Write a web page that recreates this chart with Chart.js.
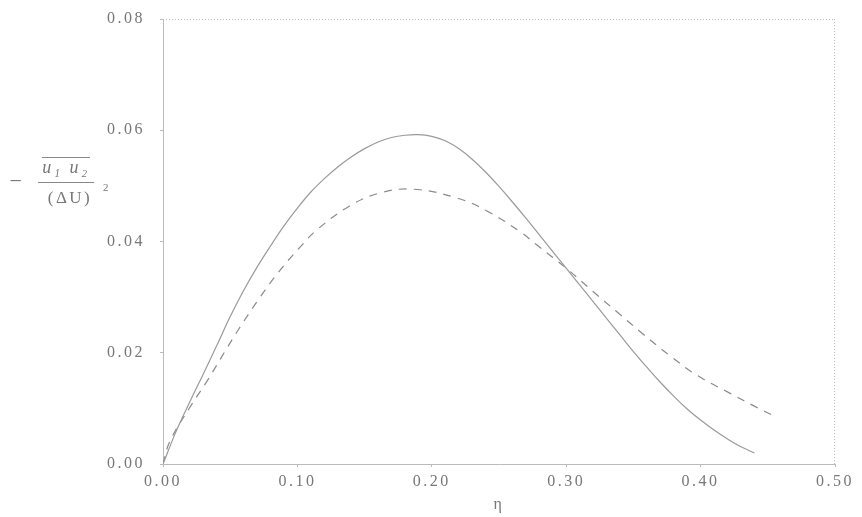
<!DOCTYPE html>
<html>
<head>
<meta charset="utf-8">
<script src="https://cdn.jsdelivr.net/npm/chart.js@4.4.1/dist/chart.umd.min.js"></script>
<style>
  html, body { margin: 0; padding: 0; background: #fff; }
  #wrap { width: 862px; height: 517px; }
</style>
</head>
<body>
<div id="wrap"><canvas id="chart" width="862" height="517"></canvas></div>
<script>
// upper curve (solid)
var etaSolid = [0.00, 0.01, 0.02, 0.03, 0.04, 0.05, 0.06, 0.07, 0.08, 0.09, 0.10, 0.11, 0.12, 0.13, 0.14, 0.15, 0.16, 0.17, 0.18, 0.19, 0.20, 0.21, 0.22, 0.23, 0.24, 0.25, 0.26, 0.27, 0.28, 0.29, 0.30, 0.31, 0.32, 0.33, 0.34, 0.35, 0.36, 0.37, 0.38, 0.39, 0.40, 0.41, 0.42, 0.43, 0.44];
var valSolid = [0.0000, 0.0060, 0.0112, 0.0162, 0.0213, 0.0265, 0.0312, 0.0354, 0.0392, 0.0428, 0.0460, 0.0489, 0.0513, 0.0534, 0.0552, 0.0567, 0.0579, 0.0587, 0.0591, 0.0592, 0.0589, 0.0581, 0.0567, 0.0548, 0.0525, 0.0499, 0.0471, 0.0442, 0.0412, 0.0382, 0.0352, 0.0322, 0.0292, 0.0262, 0.0232, 0.0202, 0.0174, 0.0147, 0.0122, 0.0099, 0.0079, 0.0061, 0.0045, 0.0031, 0.0020];

// lower curve (dashed)
var etaDashed = [0.000, 0.005, 0.020, 0.033, 0.046, 0.057, 0.072, 0.086, 0.102, 0.115, 0.139, 0.161, 0.186, 0.219, 0.241, 0.266, 0.278, 0.300, 0.320, 0.339, 0.356, 0.377, 0.397, 0.422, 0.440, 0.455];
var valDashed = [0.0000, 0.0040, 0.0102, 0.0150, 0.0202, 0.0245, 0.0299, 0.0345, 0.0390, 0.0422, 0.0464, 0.0487, 0.0494, 0.0478, 0.0455, 0.0417, 0.0394, 0.0352, 0.0310, 0.0271, 0.0236, 0.0195, 0.0160, 0.0127, 0.0104, 0.0086];

var xTicks = [0, 0.1, 0.2, 0.3, 0.4, 0.5];
var yTicks = [0, 0.02, 0.04, 0.06, 0.08];

function toPoints(xs, ys) {
    return xs.map(function (x, i) { return { x: x, y: ys[i] }; });
}

var serif = '"Liberation Serif", "DejaVu Serif", serif';
var inkColor = '#777';

// wide letter spacing like the scanned original
var spacingPlugin = {
    id: 'spacing',
    beforeDraw: function (chart) {
        chart.ctx.letterSpacing = '2.5px';
    }
};

// frame on top/right and y label fraction
var framePlugin = {
    id: 'frame',
    afterDraw: function (chart) {
        var a = chart.chartArea;
        var ctx = chart.ctx;
        ctx.save();
        ctx.strokeStyle = '#bbb';
        ctx.lineWidth = 1;
        ctx.setLineDash([1, 2]);
        ctx.beginPath();
        ctx.moveTo(a.left, a.top + 0.5);
        ctx.lineTo(a.right, a.top + 0.5);
        ctx.moveTo(a.right - 0.5, a.top);
        ctx.lineTo(a.right - 0.5, a.bottom);
        ctx.stroke();
        ctx.setLineDash([]);

        // y axis title: - overline(u1 u2) / (ΔU)^2
        ctx.fillStyle = inkColor;
        ctx.strokeStyle = '#888';
        ctx.textBaseline = 'middle';
        ctx.textAlign = 'center';
        ctx.font = '22px ' + serif;
        ctx.fillText('\u2212', 17, 182);
        ctx.font = 'italic 18px ' + serif;
        ctx.fillText('u\u2081 u\u2082', 66, 168);
        ctx.font = '17px ' + serif;
        ctx.fillText('(\u0394U)', 70, 199);
        ctx.font = '11px ' + serif;
        ctx.fillText('2', 107, 188);
        ctx.beginPath();
        ctx.moveTo(42, 157.5);
        ctx.lineTo(90, 157.5);
        ctx.moveTo(38, 182.5);
        ctx.lineTo(94, 182.5);
        ctx.stroke();
        ctx.restore();
    }
};

new Chart(document.getElementById('chart'), {
    type: 'line',
    data: {
        datasets: [{
            label: 'upper',
            data: toPoints(etaSolid, valSolid),
            borderColor: '#9a9a9a',
            borderWidth: 1.2,
            pointRadius: 0,
            tension: 0.4,
            fill: false
        }, {
            label: 'lower',
            data: toPoints(etaDashed, valDashed),
            borderColor: '#8a8a8a',
            borderWidth: 1.2,
            borderDash: [8, 7],
            pointRadius: 0,
            tension: 0.4,
            fill: false
        }]
    },
    options: {
        responsive: false,
        animation: false,
        layout: { padding: { top: 19, right: 27, left: 0, bottom: 0 } },
        plugins: {
            legend: { display: false },
            tooltip: { enabled: false }
        },
        scales: {
            x: {
                type: 'linear',
                min: 0,
                max: 0.5,
                afterBuildTicks: function (scale) {
                    scale.ticks = xTicks.map(function (v) { return { value: v }; });
                },
                afterFit: function (scale) { scale.height = 53; },
                ticks: {
                    color: inkColor,
                    font: { family: serif, size: 16 },
                    padding: 5,
                    maxRotation: 0,
                    callback: function (v) { return v.toFixed(2); }
                },
                grid: { display: true, drawOnChartArea: false, tickLength: 3, color: '#bbb' },
                border: { color: '#bbb', dash: [1, 2] },
                title: {
                    display: true,
                    text: '\u03b7',
                    color: inkColor,
                    font: { family: serif, size: 16 },
                    padding: { top: 0, bottom: 3 }
                }
            },
            y: {
                min: 0,
                max: 0.08,
                afterBuildTicks: function (scale) {
                    scale.ticks = yTicks.map(function (v) { return { value: v }; });
                },
                afterFit: function (scale) {
                    scale.width = 163;
                    scale.paddingTop = 0;
                    scale.paddingBottom = 0;
                },
                ticks: {
                    color: inkColor,
                    font: { family: serif, size: 16 },
                    padding: 15,
                    callback: function (v) { return v.toFixed(2); }
                },
                grid: { display: true, drawOnChartArea: false, tickLength: 3, color: '#bbb' },
                border: { color: '#bbb', dash: [1, 2] }
            }
        }
    },
    plugins: [spacingPlugin, framePlugin]
});
</script>
</body>
</html>
